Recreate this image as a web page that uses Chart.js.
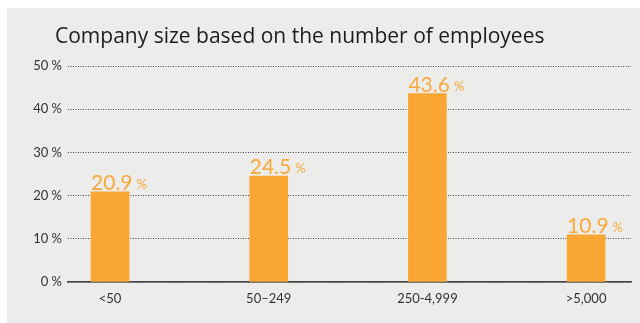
<!DOCTYPE html>
<html>
<head>
<meta charset="utf-8">
<script src="https://cdn.jsdelivr.net/npm/chart.js@4"></script>
<style>
  html, body { margin: 0; padding: 0; background: #fff; }
  #panel { position: absolute; left: 7px; top: 8px; width: 633px; height: 315px; background: #ecedea; }
  #wrap { position: absolute; left: 0; top: 0; width: 640px; height: 323px; }
</style>
</head>
<body>
<div id="panel"></div>
<div id="wrap"><canvas id="chart"></canvas></div>
<script>
// Company size shares
const categories = ['<50', '50–249', '250-4,999', '>5,000'];
const shares = [20.9, 24.5, 43.6, 10.9];
const yTicks = [0, 10, 20, 30, 40, 50];

const ORANGE = '#f9a632';
const LABEL = '#f8a83c';

// value label above each bar: big number plus a small percent sign
const valueLabels = {
  id: 'valueLabels',
  afterDatasetsDraw(chart) {
    const ctx = chart.ctx;
    const meta = chart.getDatasetMeta(0);
    ctx.save();
    ctx.fillStyle = LABEL;
    ctx.textBaseline = 'alphabetic';
    ctx.textAlign = 'left';
    meta.data.forEach((bar, i) => {
      const left = bar.x - bar.width / 2;
      const num = shares[i].toFixed(1);
      ctx.font = '21px Lato';
      ctx.fillText(num, left, bar.y - 2);
      const w = ctx.measureText(num).width;
      ctx.font = '13px Lato';
      ctx.fillText('%', left + w + 4, bar.y - 3);
    });
    ctx.restore();
  }
};

// chart heading, drawn left of the plot area
const heading = {
  id: 'heading',
  afterDraw(chart) {
    const ctx = chart.ctx;
    ctx.save();
    ctx.fillStyle = '#1c1c1c';
    ctx.font = '21px "Open Sans"';
    ctx.textBaseline = 'alphabetic';
    ctx.fillText('Company size based on the number of employees', 55, 43);
    ctx.restore();
  }
};

new Chart(document.getElementById('chart'), {
  type: 'bar',
  data: {
    datasets: [{
      data: shares.map((v, i) => ({ x: i, y: v })),
      backgroundColor: ORANGE,
      barThickness: 38
    }]
  },
  options: {
    responsive: true,
    maintainAspectRatio: false,
    animation: false,
    layout: { padding: { top: 66, right: 9, left: 0, bottom: 0 } },
    plugins: { legend: { display: false }, tooltip: { enabled: false } },
    scales: {
      x: {
        type: 'linear',
        offset: false,
        min: -0.265,
        max: 3.283,
        grid: { display: false, drawTicks: false },
        border: { display: true, color: '#444', width: 1.5 },
        ticks: {
          stepSize: 1,
          includeBounds: false,
          padding: 9,
          color: '#333',
          font: { family: 'Lato', size: 13 },
          callback: v => Number.isInteger(v) ? categories[v] : ''
        },
        afterFit: s => { s.height = 41; }
      },
      y: {
        min: 0,
        max: 50,
        afterBuildTicks: s => { s.ticks = yTicks.map(v => ({ value: v })); },
        grid: { color: '#444', lineWidth: 1, drawTicks: false },
        border: { display: false, dash: [1, 1.5] },
        ticks: {
          padding: 6,
          color: '#333',
          font: { family: 'Lato', size: 13 },
          callback: v => v + ' %'
        },
        afterFit: s => { s.width = 68; }
      }
    }
  },
  plugins: [valueLabels, heading]
});
</script>
</body>
</html>
